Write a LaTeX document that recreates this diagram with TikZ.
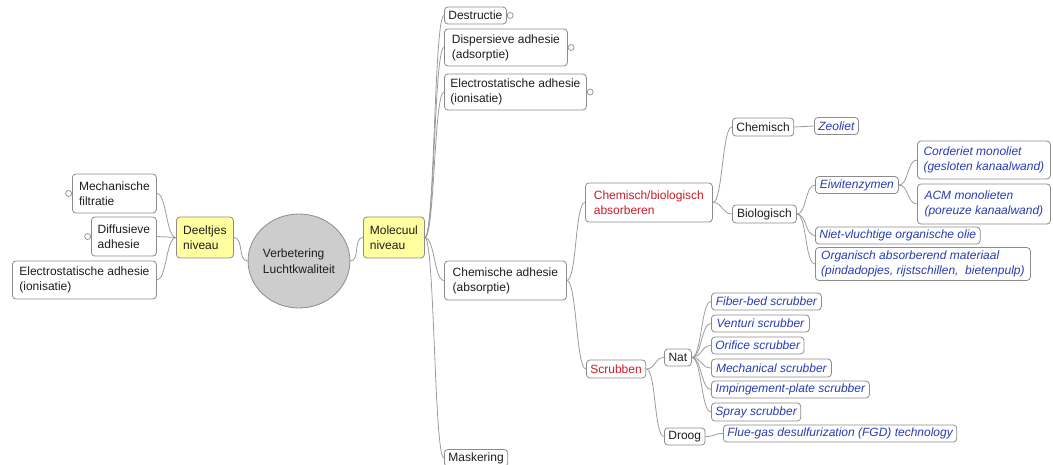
\documentclass[tikz,border=0pt]{standalone}
\usepackage{fontspec}
\setmainfont{Liberation Sans}
\usetikzlibrary{shapes.geometric}
\definecolor{linkc}{RGB}{155,155,155}
\definecolor{edgec}{RGB}{140,140,140}
\definecolor{hilite}{RGB}{255,255,160}
\definecolor{rootfill}{RGB}{205,205,205}
\definecolor{leafblue}{RGB}{40,60,180}
\definecolor{catred}{RGB}{200,30,40}
\definecolor{textc}{RGB}{30,30,30}
\tikzset{
  box/.style={draw=edgec, line width=0.8pt, rounded corners=3.5pt, fill=white,
    anchor=west, align=left, inner xsep=4pt, inner ysep=1pt, text=textc,
    font=\fontsize{12}{15}\selectfont},
  sz/.style 2 args={minimum width=#1, minimum height=#2},
  lvl/.style={box, fill=hilite},
  cat/.style={box, text=catred},
  leaf/.style={box, text=leafblue, font=\fontsize{12}{15}\selectfont\itshape},
  link/.style={draw=linkc, line width=0.8pt},
  fold/.style={circle, draw=edgec, fill=white, line width=0.7pt, inner sep=0pt, minimum size=6pt}
}
\begin{document}
\begin{tikzpicture}[x=1pt, y=-1pt]
\useasboundingbox (0,0) rectangle (1053,465);

% root
\node[ellipse, draw=edgec, line width=0.8pt, fill=rootfill, minimum width=90, minimum height=94,
      align=left, inner sep=0pt, text=textc, font=\fontsize{12}{16}\selectfont] (root) at (299,261)
      {Verbetering\\Luchtkwaliteit};

% particle level
\node[lvl, sz={57}{41}] (deel) at (176,237.5) {Deeltjes\\niveau};
\node[box, sz={84}{39}] (mech) at (72,193.5) {Mechanische\\filtratie};
\node[box, sz={65}{39}] (diff) at (91,236.5) {Diffusieve\\adhesie};
\node[box, sz={144}{38}] (elecL) at (12,280) {Electrostatische adhesie\\(ionisatie)};

% molecular level
\node[lvl, sz={61}{41}] (mol) at (363,237.5) {Molecuul\\niveau};
\node[box, sz={62}{17}] (destr) at (444,15.5) {Destructie};
\node[box, sz={123}{37}] (disp) at (444,47.5) {Dispersieve adhesie\\(adsorptie)};
\node[box, sz={142}{36}] (elecR) at (444,92) {Electrostatische adhesie\\(ionisatie)};
\node[box, sz={122}{39}] (chemadh) at (444,280.5) {Chemische adhesie\\(absorptie)};
\node[box, sz={62}{17}] (mask) at (444,458) {Maskering};

% chemical adhesion
\node[cat, sz={127}{39}] (chembio) at (585,202.5) {Chemisch/biologisch\\absorberen};
\node[cat, sz={58}{18}] (scrub) at (586,369) {Scrubben};

\node[box, sz={61}{18}] (chemisch) at (732,127) {Chemisch};
\node[leaf, sz={43}{17}] (zeoliet) at (814,126) {Zeoliet};
\node[box, sz={64}{18}] (biol) at (732,214) {Biologisch};
\node[leaf, sz={83}{17}] (eiwit) at (815,185) {Eiwitenzymen};
\node[leaf, sz={133}{38}] (cord) at (917,160) {Corderiet monoliet\\(gesloten kanaalwand)};
\node[leaf, sz={133}{40}] (acm) at (917,204) {ACM monolieten\\(poreuze kanaalwand)};
\node[leaf, sz={153}{17}] (niet) at (815,235.5) {Niet-vluchtige organische olie};
\node[leaf, sz={215}{33}] (org) at (815,264) {Organisch absorberend materiaal\\(pindadopjes, rijstschillen,\ \ bietenpulp)};

\node[box, sz={27}{17}] (nat) at (664,357.5) {Nat};
\node[box, sz={40}{17}] (droog) at (664,436.5) {Droog};
\node[leaf, sz={110}{17}] (fiber) at (711,301.5) {Fiber-bed scrubber};
\node[leaf, sz={98}{17}] (venturi) at (711,323.5) {Venturi scrubber};
\node[leaf, sz={91}{17}] (orifice) at (711,345.5) {Orifice scrubber};
\node[leaf, sz={120}{18}] (mechs) at (711,368) {Mechanical scrubber};
\node[leaf, sz={158}{17}] (imping) at (711,389.5) {Impingement-plate scrubber};
\node[leaf, sz={88}{18}] (spray) at (711,412) {Spray scrubber};
\node[leaf, sz={230}{17}] (fgd) at (723,433.5) {Flue-gas desulfurization (FGD) technology};

% collapsed-branch markers
\node[fold, anchor=east] (fmech) at (mech.west) {};
\node[fold, anchor=east] (fdiff) at (diff.west) {};
\node[fold, anchor=west] (fdestr) at (destr.east) {};
\node[fold, anchor=west] (fdisp) at (disp.east) {};
\node[fold, anchor=west] (felec) at (elecR.east) {};

% connectors, left-hand side
\draw[link] (root.west) .. controls +(-10,0) and +(10,0) .. (deel.east);
\foreach \c in {mech,diff,elecL}
  \draw[link] (deel.west) .. controls +(-10,0) and +(10,0) .. (\c.east);

% connectors, right-hand side
\foreach \p/\c in {root/mol, mol/destr, mol/disp, mol/elecR, mol/chemadh, mol/mask,
                   chemadh/chembio, chemadh/scrub, chembio/chemisch, chembio/biol,
                   chemisch/zeoliet, biol/eiwit, biol/niet, biol/org, eiwit/cord, eiwit/acm,
                   scrub/nat, scrub/droog, nat/fiber, nat/venturi, nat/orifice, nat/mechs,
                   nat/imping, nat/spray, droog/fgd}
  \draw[link] (\p.east) .. controls +(10,0) and +(-10,0) .. (\c.west);
\end{tikzpicture}
\end{document}
